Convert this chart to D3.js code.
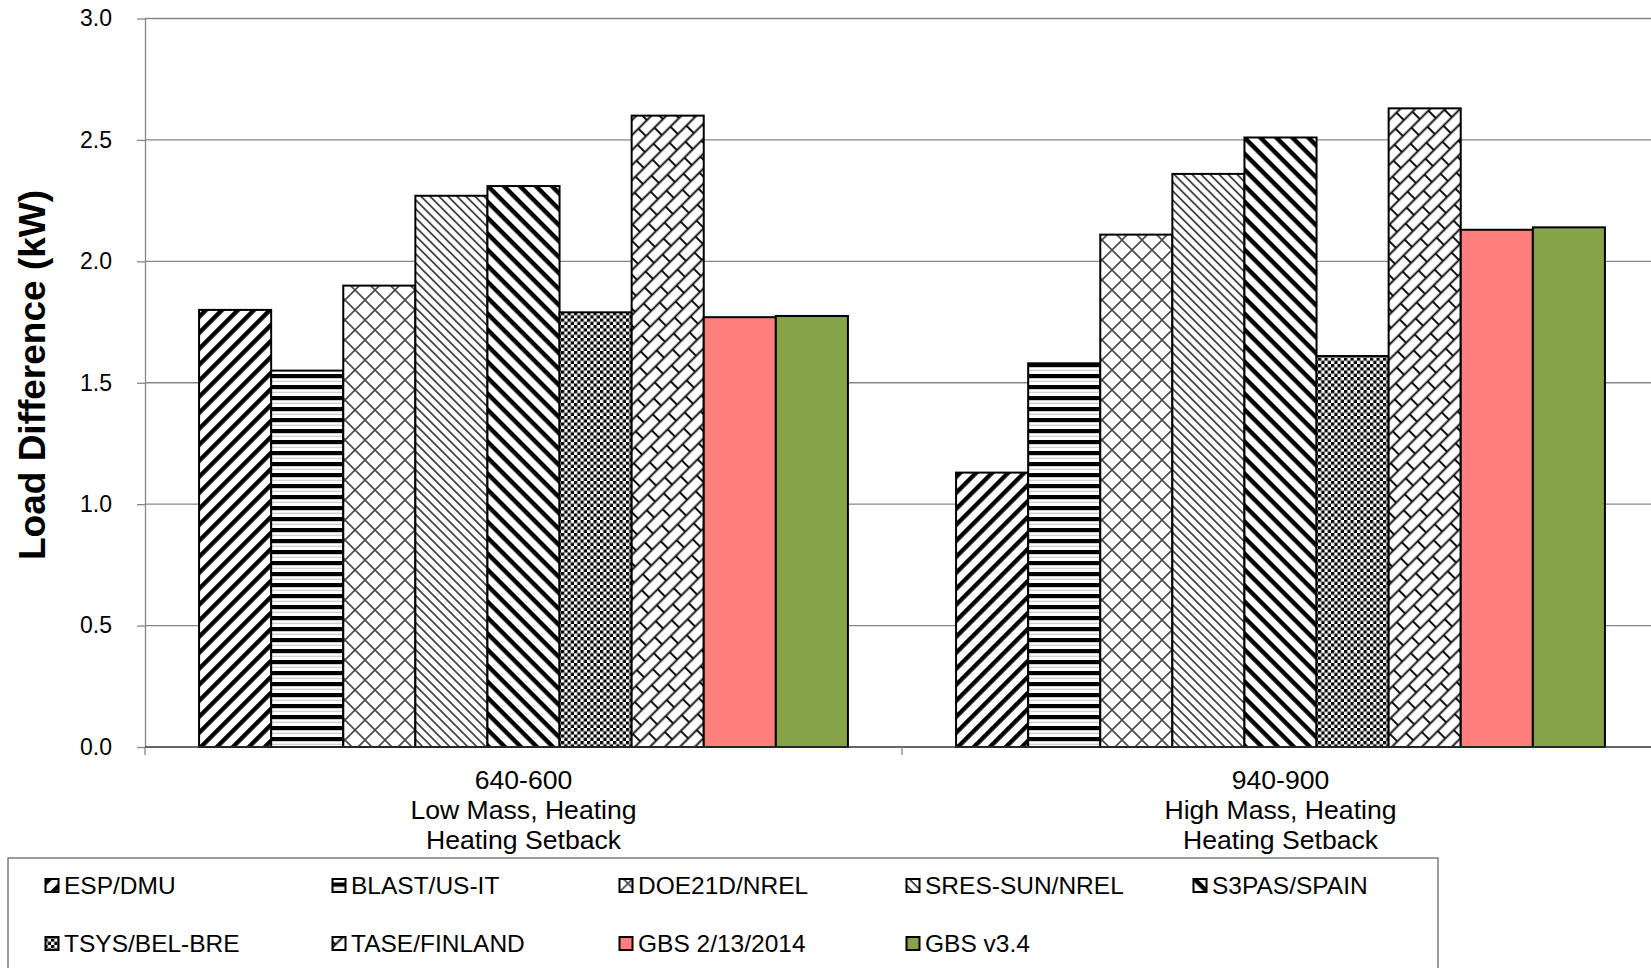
<!DOCTYPE html>
<html>
<head>
<meta charset="utf-8">
<script src="https://cdn.jsdelivr.net/npm/d3@7"></script>
<style>
  html, body { margin: 0; padding: 0; background: #fff; }
  svg { display: block; font-family: "Liberation Sans", Arial, sans-serif; }
</style>
</head>
<body>
<svg id="chart" width="1651" height="968"></svg>
<script>
// ---------- data ----------
const categories = ["640-600", "940-900"];
const categoryLabelLines = [
  ["640-600", "Low Mass, Heating", "Heating Setback"],
  ["940-900", "High Mass, Heating", "Heating Setback"]
];
const seriesNames = ["ESP/DMU", "BLAST/US-IT", "DOE21D/NREL", "SRES-SUN/NREL", "S3PAS/SPAIN",
                     "TSYS/BEL-BRE", "TASE/FINLAND", "GBS 2/13/2014", "GBS v3.4"];
const values640 = [1.80, 1.55, 1.90, 2.27, 2.31, 1.79, 2.60, 1.77, 1.775];
const values940 = [1.13, 1.58, 2.11, 2.36, 2.51, 1.61, 2.63, 2.13, 2.14];
const yTickValues = [0, 0.5, 1.0, 1.5, 2.0, 2.5, 3.0];
const yTitle = "Load Difference (kW)";

// ---------- setup ----------
const svg = d3.select("#chart");
const W = 1651, H = 968;
const plotLeft = 145, plotRight = 1659, plotTop = 18.5, plotBottom = 747;

const y = d3.scaleLinear().domain([0, 3]).range([plotBottom, plotTop]);
const x0 = d3.scaleBand().domain(categories).range([plotLeft, plotRight]).paddingInner(0).paddingOuter(0);
const x1 = d3.scaleBand().domain(seriesNames).range([0, x0.bandwidth()]).paddingInner(0).paddingOuter(0.75);

// ---------- patterns ----------
const defs = svg.append("defs");
function makePattern(id, w, h, transform) {
  const p = defs.append("pattern").attr("id", id)
    .attr("patternUnits", "userSpaceOnUse").attr("width", w).attr("height", h);
  if (transform) p.attr("patternTransform", transform);
  p.append("rect").attr("width", w).attr("height", h).attr("fill", "#fff");
  return p;
}
// ESP: wide upward diagonal
{
  const s = 11.31;
  const p = makePattern("pEsp", s, s, "rotate(-45)");
  p.append("rect").attr("x", 0).attr("y", 0).attr("width", s).attr("height", 4.4).attr("fill", "#000");
}
// BLAST: horizontal stripes
{
  const p = makePattern("pBlast", 11, 11);
  p.append("rect").attr("x", 0).attr("y", 0).attr("width", 11).attr("height", 4.2).attr("fill", "#000");
  p.append("rect").attr("x", 0).attr("y", 6.8).attr("width", 11).attr("height", 0.8).attr("fill", "#b0b0b0");
}
// DOE21D: diamond lattice
{
  const s = 20;
  const p = makePattern("pDoe", s, s);
  p.append("path").attr("d", `M0,0L${s},${s}M${s},0L0,${s}`)
    .attr("stroke", "#4a4a4a").attr("stroke-width", 1.6).attr("fill", "none");
}
// SRES: dense downward diagonal
{
  const s = 6.36;
  const p = makePattern("pSres", s, s, "rotate(45)");
  p.append("rect").attr("x", 0).attr("y", 0).attr("width", s).attr("height", 1.7).attr("fill", "#3a3a3a");
}
// S3PAS: wide downward diagonal
{
  const s = 11.31;
  const p = makePattern("pS3pas", s, s, "rotate(45)");
  p.append("rect").attr("x", 0).attr("y", 0).attr("width", s).attr("height", 4.4).attr("fill", "#000");
}
// TSYS: small checker board
{
  const s = 6.5, c = 3.25;
  const p = makePattern("pTsys", s, s);
  p.append("rect").attr("x", 0).attr("y", 0).attr("width", c).attr("height", c).attr("fill", "#000");
  p.append("rect").attr("x", c).attr("y", c).attr("width", c).attr("height", c).attr("fill", "#000");
}
// TASE: shingle (rotated bricks)
{
  const bw = 24, bh = 10.6;
  const p = makePattern("pTase", bw, bh * 2, "rotate(-45)");
  p.append("path")
    .attr("d", `M0,${bh/2}H${bw}M0,${bh*1.5}H${bw}` +
               `M${bw/4},${bh/2}V${bh*1.5}` +
               `M${bw*3/4},${bh*1.5}V${bh*2}M${bw*3/4},0V${bh/2}`)
    .attr("stroke", "#111").attr("stroke-width", 2).attr("fill", "none");
}

const seriesFills = ["url(#pEsp)", "url(#pBlast)", "url(#pDoe)", "url(#pSres)", "url(#pS3pas)",
                     "url(#pTsys)", "url(#pTase)", "#FF7F7F", "#87A34A"];
const fillOf = d3.scaleOrdinal().domain(seriesNames).range(seriesFills);

// ---------- gridlines ----------
svg.append("g").attr("class", "grid")
  .selectAll("line").data(yTickValues.filter(v => v > 0)).join("line")
  .attr("x1", plotLeft).attr("x2", W)
  .attr("y1", d => y(d)).attr("y2", d => y(d))
  .attr("stroke", "#868686").attr("stroke-width", 1.3);

// ---------- bars ----------
const table = categories.map((c, i) => ({ cat: c, values: [values640, values940][i] }));
svg.append("g").attr("class", "bars")
  .selectAll("g").data(table).join("g")
  .attr("transform", d => `translate(${x0(d.cat)},0)`)
  .selectAll("rect").data(d => d.values.map((v, j) => ({ series: seriesNames[j], value: v })))
  .join("rect")
  .attr("x", d => x1(d.series))
  .attr("y", d => y(d.value))
  .attr("width", x1.bandwidth())
  .attr("height", d => y(0) - y(d.value))
  .attr("fill", d => fillOf(d.series))
  .attr("stroke", "#000").attr("stroke-width", 2);

// ---------- y axis ----------
const yAxis = d3.axisLeft(y).tickValues(yTickValues).tickFormat(d3.format(".1f"))
  .tickSizeInner(8).tickSizeOuter(0).tickPadding(25);
const gy = svg.append("g").attr("transform", `translate(${plotLeft},0)`).call(yAxis);
gy.select(".domain").attr("stroke", "#868686").attr("stroke-width", 1.3);
gy.selectAll(".tick line").attr("stroke", "#868686").attr("stroke-width", 1.3);
gy.selectAll(".tick text").attr("fill", "#000").attr("font-size", 23)
  .attr("font-family", '"Liberation Sans", Arial, sans-serif');

// ---------- x axis ----------
const gx = svg.append("g").attr("class", "xaxis");
gx.append("line").attr("x1", plotLeft).attr("x2", W)
  .attr("y1", y(0)).attr("y2", y(0)).attr("stroke", "#333").attr("stroke-width", 1.6);
gx.selectAll("line.tk").data(categories).join("line").attr("class", "tk")
  .attr("x1", d => x0(d)).attr("x2", d => x0(d))
  .attr("y1", y(0)).attr("y2", y(0) + 8)
  .attr("stroke", "#868686").attr("stroke-width", 1.3);
const catText = gx.selectAll("text.cat").data(categories).join("text").attr("class", "cat")
  .attr("text-anchor", "middle").attr("font-size", 26.6).attr("fill", "#000");
catText.selectAll("tspan").data((d, i) => categoryLabelLines[i].map(t => ({ t, c: d })))
  .join("tspan")
  .attr("x", d => x0(d.c) + x0.bandwidth() / 2)
  .attr("y", (d, k) => 788.5 + k * 30)
  .text(d => d.t);

// ---------- y title ----------
svg.append("text")
  .attr("transform", `translate(45,375) rotate(-90)`)
  .attr("text-anchor", "middle")
  .attr("font-size", 37).attr("font-weight", "bold").attr("fill", "#000")
  .text(yTitle);

// ---------- legend ----------
const lg = svg.append("g").attr("class", "legend");
lg.append("rect").attr("x", 8).attr("y", 858).attr("width", 1430).attr("height", 140)
  .attr("fill", "#fff").attr("stroke", "#5a5a5a").attr("stroke-width", 1.2);
const colStep = 287, textX0 = 64, rowBase = [893.5, 951.5];
const items = lg.selectAll("g.item").data(seriesNames).join("g").attr("class", "item")
  .attr("transform", (d, i) => `translate(${textX0 + (i % 5) * colStep},${rowBase[Math.floor(i / 5)]})`);
items.append("rect").attr("x", -18.5).attr("y", -14.5).attr("width", 13).attr("height", 13)
  .attr("fill", d => fillOf(d)).attr("stroke", "#000").attr("stroke-width", 2);
items.append("text").attr("x", 0).attr("y", 0).attr("font-size", 24.5).attr("fill", "#000").text(d => d);
</script>
</body>
</html>
